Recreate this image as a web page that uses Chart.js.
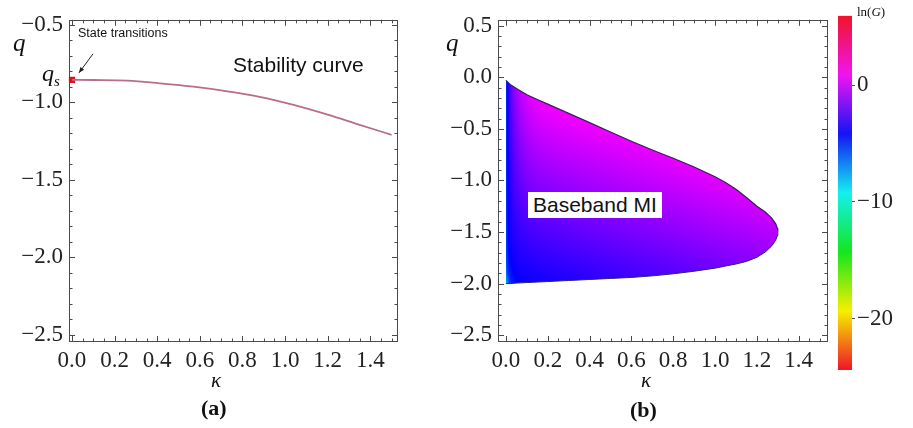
<!DOCTYPE html>
<html>
<head>
<meta charset="utf-8">
<script src="https://cdn.jsdelivr.net/npm/chart.js@4.4.1/dist/chart.umd.min.js"></script>
<style>
    body { margin: 0; background: #fff; width: 913px; height: 428px; position: relative; overflow: hidden; font-family: "Liberation Serif", serif; color: #111; }
    canvas { position: absolute; top: 0; }
    .t { position: absolute; white-space: nowrap; line-height: 1; }
    .sans { font-family: "Liberation Sans", Arial, sans-serif; }
</style>
</head>
<body>
<canvas id="grafA" width="430" height="428" style="left:0"></canvas>
<canvas id="grafB" width="410" height="428" style="left:430px"></canvas>
<canvas id="barraCor" width="83" height="428" style="left:830px"></canvas>

<div class="t" style="left:13px;top:30px;font-size:25px;font-style:italic">q</div>
<div class="t" style="left:42px;top:61px;font-size:24px;font-style:italic">q<span style="font-size:15px;position:relative;top:5px">s</span></div>
<div class="t sans" style="left:78px;top:27px;font-size:12.5px">State transitions</div>
<div class="t sans" style="left:233px;top:54px;font-size:21px">Stability curve</div>
<div class="t" style="left:211px;top:370px;font-size:21px;font-style:italic">κ</div>
<div class="t" style="left:201px;top:397px;font-size:22px;font-weight:bold">(a)</div>

<div class="t" style="left:446px;top:30px;font-size:25px;font-style:italic">q</div>
<div class="t sans" style="left:528px;top:192px;font-size:21px;background:#fff;padding:2px 5px 3px 5px">Baseband MI</div>
<div class="t" style="left:641px;top:370px;font-size:21px;font-style:italic">κ</div>
<div class="t" style="left:630px;top:399px;font-size:22px;font-weight:bold">(b)</div>
<div class="t" style="left:857px;top:5px;font-size:13px">ln(<i>G</i>)</div>

<script>
// (a) curva de estabilidade
const kappaCurva = [0, 0.1, 0.26, 0.41, 0.57, 0.73, 0.88, 1.04, 1.2, 1.35, 1.5];
const qCurva = [-0.856, -0.857, -0.861, -0.878, -0.90, -0.93, -0.965, -1.017, -1.08, -1.146, -1.21];
const pontoTransicao = { x: 0, y: -0.856 };

// (b) regiao de MI em banda base
const kappaRegiao = [0, 0.02, 0.05, 0.1, 0.15, 0.2, 0.3, 0.4, 0.5, 0.6, 0.7, 0.8, 0.9, 1.0, 1.05, 1.1, 1.15, 1.2, 1.24, 1.27, 1.29, 1.298, 1.3];
const qSuperior = [-0.03, -0.07, -0.11, -0.17, -0.215, -0.26, -0.35, -0.44, -0.53, -0.62, -0.705, -0.785, -0.87, -0.965, -1.02, -1.085, -1.165, -1.25, -1.306, -1.363, -1.421, -1.465, -1.5];
const qInferior = [-2.0, -2.0, -1.995, -1.99, -1.985, -1.98, -1.97, -1.96, -1.95, -1.94, -1.925, -1.905, -1.88, -1.85, -1.83, -1.81, -1.785, -1.745, -1.694, -1.637, -1.579, -1.535, -1.5];

// eixos
const ticksKappa = [0, 0.2, 0.4, 0.6, 0.8, 1.0, 1.2, 1.4];
const ticksQa = [-2.5, -2.0, -1.5, -1.0, -0.5];
const ticksQb = [-2.5, -2.0, -1.5, -1.0, -0.5, 0.0, 0.5];
const ticksLnG = [-20, -10, 0];
const faixaLnG = [-24.4, 5.93];

const fonteSerif = '"Liberation Serif", "Times New Roman", serif';
const formatar = v => (v < 0 ? '\u2212' : '') + Math.abs(v).toFixed(1);
Chart.defaults.font.family = fonteSerif;

function pares(xs, ys) {
    return xs.map((x, i) => ({ x, y: ys[i] }));
}

// moldura com ticks para dentro, estilo Mathematica
const moldura = {
    id: 'moldura',
    afterDraw(chart) {
        const { ctx, chartArea: a, scales: { x, y } } = chart;
        ctx.save();
        ctx.strokeStyle = '#4a4a4a';
        ctx.lineWidth = 1;
        ctx.strokeRect(Math.round(a.left) + 0.5, Math.round(a.top) + 0.5, Math.round(a.width) - 1, Math.round(a.height) - 1);
        ctx.beginPath();
        for (let i = 0; i <= 30; i++) {
            const v = i * 0.05;
            const px = Math.round(x.getPixelForValue(v)) + 0.5;
            const len = i % 4 === 0 ? 6 : 3.5;
            ctx.moveTo(px, a.bottom); ctx.lineTo(px, a.bottom - len);
            ctx.moveTo(px, a.top); ctx.lineTo(px, a.top + len);
        }
        for (let i = -26; i <= 6; i++) {
            const v = i * 0.1;
            if (v < y.min || v > y.max) continue;
            const py = Math.round(y.getPixelForValue(v)) + 0.5;
            const len = i % 5 === 0 ? 6 : 3.5;
            ctx.moveTo(a.left, py); ctx.lineTo(a.left + len, py);
            ctx.moveTo(a.right, py); ctx.lineTo(a.right - len, py);
        }
        ctx.stroke();
        ctx.restore();
    }
};

// seta "State transitions"
const seta = {
    id: 'seta',
    afterDatasetsDraw(chart) {
        const p = chart.getDatasetMeta(1).data[0];
        if (!p) return;
        const { ctx } = chart;
        const x0 = p.x + 21, y0 = p.y - 26, x1 = p.x + 7, y1 = p.y - 7;
        const ang = Math.atan2(y1 - y0, x1 - x0);
        ctx.save();
        ctx.strokeStyle = '#222';
        ctx.fillStyle = '#222';
        ctx.lineWidth = 1;
        ctx.beginPath();
        ctx.moveTo(x0, y0); ctx.lineTo(x1, y1);
        ctx.stroke();
        ctx.beginPath();
        ctx.moveTo(x1, y1);
        ctx.lineTo(x1 - 6 * Math.cos(ang - 0.4), y1 - 6 * Math.sin(ang - 0.4));
        ctx.lineTo(x1 - 6 * Math.cos(ang + 0.4), y1 - 6 * Math.sin(ang + 0.4));
        ctx.closePath();
        ctx.fill();
        ctx.restore();
    }
};

function opcoesEixos(xMin, xMax, yMin, yMax, yTicks, larguraY, padDireita) {
    return {
        responsive: false,
        animation: false,
        devicePixelRatio: 1,
        layout: { padding: { top: 12, right: padDireita, left: 0, bottom: 0 } },
        plugins: { legend: { display: false }, tooltip: { enabled: false } },
        scales: {
            x: {
                type: 'linear', min: xMin, max: xMax,
                afterBuildTicks: s => { s.ticks = ticksKappa.map(v => ({ value: v })); },
                afterFit: s => { s.height = 86; },
                ticks: { callback: v => formatar(v), font: { family: fonteSerif, size: 23 }, color: '#222', padding: 5, maxRotation: 0, autoSkip: false },
                grid: { drawOnChartArea: false, drawTicks: false },
                border: { display: false }
            },
            y: {
                type: 'linear', min: yMin, max: yMax,
                afterBuildTicks: s => { s.ticks = yTicks.map(v => ({ value: v })); },
                afterFit: s => { s.width = larguraY; },
                ticks: { callback: v => formatar(v), font: { family: fonteSerif, size: 23 }, color: '#222', padding: 6, autoSkip: false },
                grid: { drawOnChartArea: false, drawTicks: false },
                border: { display: false }
            }
        }
    };
}

// cor do ganho: matiz (azul -> magenta) aproximando a figura
function matizGanho(k, q) {
    const amort = 1 - Math.exp(-k / 0.05);
    const alt = Math.min(1, Math.max(0, (q + 2) / 2));
    let s = (alt + 0.45 * k / 1.3) * amort;
    s = Math.min(1, Math.max(0, s));
    let h = 240 + 62 * s;
    h -= 35 * Math.exp(-k / 0.02) * Math.exp(-(q + 2) / 0.12);
    h -= 18 * Math.exp(-k / 0.007);
    return h;
}

function matizRgb(h) {
    const f = n => {
        const k = (n + h / 60) % 6;
        return Math.round(255 * (1 - Math.max(0, Math.min(k, 4 - k, 1))));
    };
    return [f(5), f(3), f(1)];
}

function preenchimentoRegiao(context) {
    const chart = context.chart;
    const a = chart.chartArea;
    if (!a || !chart.scales.x) return 'rgba(130,20,240,0.9)';
    if (chart.$padrao) return chart.$padrao;
    const { x, y } = chart.scales;
    const off = document.createElement('canvas');
    off.width = chart.width;
    off.height = chart.height;
    const octx = off.getContext('2d');
    const img = octx.createImageData(off.width, off.height);
    for (let py = Math.floor(a.top); py < Math.ceil(a.bottom); py++) {
        const q = y.getValueForPixel(py + 0.5);
        for (let px = Math.floor(a.left); px < Math.ceil(a.right); px++) {
            const k = Math.max(0, x.getValueForPixel(px + 0.5));
            const [r, g, b] = matizRgb(matizGanho(k, q));
            const i = (py * off.width + px) * 4;
            img.data[i] = r;
            img.data[i + 1] = g;
            img.data[i + 2] = b;
            img.data[i + 3] = 255;
        }
    }
    octx.putImageData(img, 0, 0);
    chart.$padrao = chart.ctx.createPattern(off, 'no-repeat');
    return chart.$padrao;
}

const coresMatiz = ['#f01428', '#f5f000', '#14e61e', '#14f0f0', '#1414f5', '#f014f0', '#f01428'];

function desenharGraficos() {
    new Chart(document.getElementById('grafA'), {
        type: 'line',
        data: {
            datasets: [
                {
                    data: pares(kappaCurva, qCurva),
                    borderColor: '#b86d8c',
                    borderWidth: 1.8,
                    pointRadius: 0,
                    cubicInterpolationMode: 'monotone',
                    fill: false
                },
                {
                    data: [pontoTransicao],
                    showLine: false,
                    pointStyle: 'rect',
                    pointRadius: 4.4,
                    backgroundColor: '#e3101a',
                    borderColor: '#e3101a',
                    borderWidth: 0,
                    clip: false
                }
            ]
        },
        options: opcoesEixos(-0.014, 1.53, -2.545, -0.469, ticksQa, 69, 32),
        plugins: [moldura, seta]
    });

    new Chart(document.getElementById('grafB'), {
        type: 'line',
        data: {
            datasets: [
                {
                    data: pares(kappaRegiao, qSuperior),
                    borderColor: '#3a1c5e',
                    borderWidth: 1.2,
                    pointRadius: 0,
                    tension: 0,
                    fill: false
                },
                {
                    data: pares(kappaRegiao, qInferior),
                    borderColor: '#26237e',
                    borderWidth: 1,
                    pointRadius: 0,
                    tension: 0,
                    fill: '-1',
                    backgroundColor: preenchimentoRegiao
                }
            ]
        },
        options: opcoesEixos(-0.038, 1.54, -2.566, 0.557, ticksQb, 68, 12),
        plugins: [moldura]
    });

    // barra de cores ln(G)
    new Chart(document.getElementById('barraCor'), {
        type: 'bar',
        data: {
            labels: ['lnG'],
            datasets: [{
                data: [faixaLnG],
                barPercentage: 1,
                categoryPercentage: 1,
                borderWidth: 0,
                backgroundColor: (context) => {
                    const chart = context.chart;
                    const y = chart.scales.y;
                    if (!chart.chartArea || !y) return '#888';
                    const g = chart.ctx.createLinearGradient(0, y.getPixelForValue(faixaLnG[0]), 0, y.getPixelForValue(faixaLnG[1]));
                    coresMatiz.forEach((c, i) => g.addColorStop(i / (coresMatiz.length - 1), c));
                    return g;
                }
            }]
        },
        options: {
            responsive: false,
            animation: false,
            devicePixelRatio: 1,
            layout: { padding: { top: 12, right: 0, left: 8, bottom: 58 } },
            plugins: { legend: { display: false }, tooltip: { enabled: false } },
            scales: {
                x: { display: false },
                y: {
                    position: 'right',
                    min: faixaLnG[0], max: faixaLnG[1],
                    afterBuildTicks: s => { s.ticks = ticksLnG.map(v => ({ value: v })); },
                    afterFit: s => { s.width = 61; },
                    ticks: { callback: v => (v < 0 ? '\u2212' : '') + Math.abs(v), font: { family: fonteSerif, size: 23 }, color: '#222', padding: 2 },
                    grid: { drawOnChartArea: false, drawTicks: true, tickLength: 3, color: '#555' },
                    border: { display: false }
                }
            }
        }
    });
}

Promise.all([
    document.fonts.load('23px "Liberation Serif"'),
    document.fonts.load('italic 23px "Liberation Serif"')
]).then(desenharGraficos, desenharGraficos);
</script>
</body>
</html>
